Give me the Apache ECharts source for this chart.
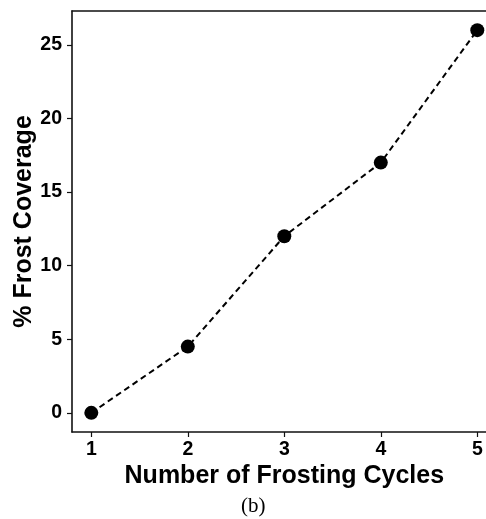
<!DOCTYPE html>
<html>
<head>
<meta charset="utf-8">
<script src="https://cdn.jsdelivr.net/npm/echarts@6/dist/echarts.min.js"></script>
<style>
html,body{margin:0;padding:0;background:#fff;overflow:hidden;}
#c{width:486px;height:519px;}
</style>
</head>
<body>
<div id="c"></div>
<script>
var cycles = [1, 2, 3, 4, 5];
var coverage = [0, 4.5, 12, 17, 26];
var xTicks = [1, 2, 3, 4, 5];
var yTicks = [0, 5, 10, 15, 20, 25];

var chart = echarts.init(document.getElementById('c'), null, {renderer: 'canvas'});
var font = 'Liberation Sans, Arial, sans-serif';
var pts = cycles.map(function (c, i) { return [c, coverage[i]]; });
var lineCol = '#111';

chart.setOption({
  animation: false,
  backgroundColor: '#fff',
  grid: {
    left: 72, top: 11, width: 424.6, bottom: 87,
    show: false,
    outerBoundsMode: 'none', containLabel: false
  },
  xAxis: [{
    type: 'value', min: 0.8, max: 5.2, position: 'bottom',
    name: 'Number of Frosting Cycles', nameLocation: 'middle', nameGap: 32, nameMoveOverlap: false,
    nameTextStyle: {fontFamily: font, fontWeight: 'bold', fontSize: 25, color: '#000'},
    axisLine: {show: true, onZero: false, lineStyle: {color: lineCol, width: 1.6}},
    axisTick: {show: true, length: 5, inside: false, customValues: xTicks, lineStyle: {color: lineCol, width: 1.2}},
    axisLabel: {customValues: xTicks, margin: 8, fontFamily: font, fontWeight: 'bold', fontSize: 19.5, color: '#000'},
    splitLine: {show: false}
  }, {
    type: 'value', min: 0.8, max: 5.2, position: 'top',
    axisLine: {show: true, onZero: false, lineStyle: {color: lineCol, width: 1.6}},
    axisTick: {show: false}, axisLabel: {show: false}, splitLine: {show: false}
  }],
  yAxis: {
    type: 'value', min: -1.3, max: 27.3,
    name: '% Frost Coverage', nameLocation: 'middle', nameGap: 35, nameMoveOverlap: false,
    nameTextStyle: {fontFamily: font, fontWeight: 'bold', fontSize: 25, color: '#000'},
    axisLine: {show: true, onZero: false, lineStyle: {color: lineCol, width: 1.6}},
    axisTick: {show: true, length: 5, inside: false, customValues: yTicks, lineStyle: {color: lineCol, width: 1.2}},
    axisLabel: {customValues: yTicks, margin: 10, fontFamily: font, fontWeight: 'bold', fontSize: 19.5, color: '#000'},
    splitLine: {show: false}
  },
  series: [{
    type: 'line',
    xAxisIndex: 0,
    data: pts,
    symbol: 'circle',
    symbolSize: 14,
    itemStyle: {color: '#000'},
    lineStyle: {color: '#000', width: 2, type: [6, 4]},
    z: 5
  }],
  graphic: [{
    type: 'text',
    left: 241, top: 496,
    style: {text: '(b)', font: '21px "Liberation Serif", "DejaVu Serif", serif', fill: '#000'}
  }]
});
</script>
</body>
</html>
